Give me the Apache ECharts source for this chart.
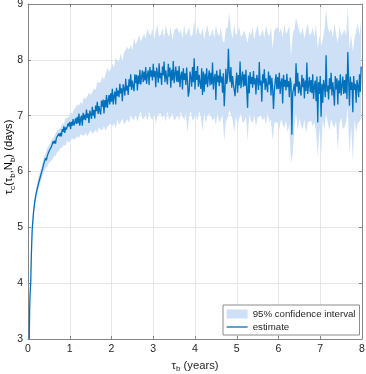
<!DOCTYPE html>
<html>
<head>
<meta charset="utf-8">
<script src="https://cdn.jsdelivr.net/npm/echarts@6/dist/echarts.min.js"></script>
<style>html,body{margin:0;padding:0;background:#fff;}#c{width:366px;height:374px;}</style>
</head>
<body>
<div id="c"></div>
<script>
// ---- data ----
const xTicks = [0, 1, 2, 3, 4, 5, 6, 7, 8];
const yTicks = [3, 4, 5, 6, 7, 8, 9];

// steep start (tau_b, years), shared by estimate and band
const tauEarly = [0.03, 0.04, 0.05, 0.065, 0.08, 0.10, 0.13, 0.16, 0.20, 0.25, 0.30, 0.35];
const estEarly = [3.00, 3.55, 3.80, 4.00, 4.50, 4.95, 5.25, 5.45, 5.62, 5.78, 5.92, 6.05];
const upEarly  = [3.02, 3.58, 3.84, 4.05, 4.56, 5.02, 5.33, 5.53, 5.71, 5.88, 6.03, 6.17];
const loEarly  = [3.00, 3.52, 3.76, 3.95, 4.44, 4.88, 5.17, 5.37, 5.53, 5.68, 5.81, 5.93];

// estimate: sampled from 0.38 years every 0.02 years
const estStart = 0.38, estStep = 0.02;
const estMain = [
  6.14,6.14,6.24,6.20,6.27,6.32,6.29,6.39,6.38,6.44,
  6.45,6.54,6.50,6.55,6.50,6.60,6.60,6.58,6.68,6.63,
  6.69,6.63,6.76,6.71,6.81,6.69,6.79,6.75,6.72,6.86,
  6.81,6.89,6.76,6.89,6.82,6.94,6.82,6.88,6.95,6.85,
  6.98,6.86,7.04,6.82,6.94,7.00,6.82,7.05,6.93,7.02,
  6.92,7.11,6.96,7.04,6.87,7.09,7.03,6.94,7.16,7.00,
  7.10,6.95,7.18,7.08,7.25,7.03,7.17,7.08,7.02,7.27,
  7.16,7.29,7.04,7.28,7.15,7.37,7.14,7.27,7.37,7.20,
  7.40,7.25,7.48,7.20,7.36,7.43,7.20,7.50,7.35,7.45,
  7.33,7.57,7.40,7.49,7.26,7.56,7.49,7.36,7.66,7.45,
  7.54,7.37,7.65,7.52,7.74,7.46,7.63,7.52,7.44,7.74,
  7.58,7.73,7.45,7.72,7.57,7.82,7.56,7.69,7.81,7.60,
  7.79,7.63,7.87,7.57,7.73,7.81,7.55,7.87,7.70,7.81,
  7.63,7.93,7.69,7.80,7.51,7.86,7.76,7.59,7.94,7.67,
  7.77,7.55,7.88,7.72,7.97,7.60,7.81,7.67,7.56,7.93,
  7.70,7.86,7.50,7.82,7.63,7.98,7.58,7.75,7.88,7.61,
  7.81,7.60,7.89,7.51,7.71,7.79,7.47,7.85,7.64,7.76,
  7.55,7.86,7.62,7.34,7.44,7.79,7.69,7.52,7.87,7.60,
  8.03,7.47,7.80,7.64,7.89,7.52,7.73,7.59,7.48,7.85,
  7.37,7.79,7.43,7.75,7.56,7.85,7.51,7.68,7.81,7.54,
  7.77,7.56,7.95,7.47,7.67,7.75,7.28,7.81,7.60,7.72,
  7.53,7.83,7.59,7.70,7.41,7.76,7.17,7.49,7.84,7.57,
  7.67,8.20,7.77,7.60,7.87,7.50,7.71,7.56,7.46,7.35,
  7.61,7.77,7.41,7.73,7.54,7.97,7.49,7.66,7.79,7.52,
  7.74,7.53,7.82,7.44,7.14,7.72,7.40,7.78,7.57,7.69,
  7.50,7.80,7.56,7.67,7.38,7.73,7.63,7.46,7.96,7.54,
  7.63,7.25,7.74,7.58,7.83,7.46,7.67,7.53,7.42,7.79,
  7.56,7.72,7.36,7.68,7.49,7.12,7.44,7.61,7.74,7.47,
  7.69,7.48,7.77,7.39,7.59,7.67,7.22,7.73,7.52,7.64,
  7.45,7.75,7.51,7.62,7.33,7.68,7.58,6.66,7.41,7.48,
  7.57,7.35,7.94,7.52,7.77,7.40,7.61,7.47,7.36,7.73,
  7.51,7.67,7.31,7.63,7.44,7.95,7.39,7.56,7.69,7.42,
  7.64,7.40,7.74,7.30,7.53,7.63,7.26,7.70,6.88,7.60,
  7.39,7.71,6.98,7.57,7.23,7.64,7.53,7.33,8.08,7.43,
  7.54,7.29,7.67,7.47,7.77,7.36,7.60,7.43,7.18,7.71,
  7.47,7.67,7.20,7.63,7.40,7.74,7.36,7.54,7.70,7.39,
  7.64,7.40,7.74,7.30,8.14,7.63,7.18,7.70,7.46,7.60,
  7.06,7.71,7.46,7.57,7.23,7.64,7.53,7.33,7.74,7.43,
  7.88
];

// 95% confidence band: sampled from 0.38 years every 0.04 years
const bandStart = 0.38, bandStep = 0.04;
const upMain = [
  6.26,6.32,6.42,6.46,6.51,6.59,6.61,6.68,6.74,6.75,
  6.79,6.86,6.86,6.96,6.96,6.98,7.07,7.03,7.11,7.15,
  7.20,7.18,7.24,7.21,7.34,7.29,7.35,7.41,7.37,7.42,
  7.48,7.46,7.60,7.59,7.60,7.71,7.64,7.76,7.86,7.79,
  7.84,7.94,7.86,8.04,7.98,7.97,8.11,7.98,8.13,8.18,
  8.23,8.18,8.27,8.17,8.40,8.27,8.35,8.45,8.33,8.39,
  8.47,8.37,8.56,8.47,8.43,8.56,8.37,8.51,8.62,8.42,
  8.45,8.56,8.39,8.62,8.48,8.42,8.59,8.35,8.53,8.56,
  8.57,8.47,8.54,8.38,8.63,8.44,8.50,8.59,8.41,8.45,
  8.70,8.41,8.60,8.50,8.44,8.57,8.36,8.51,8.63,8.42,
  8.45,8.56,8.39,8.62,8.48,8.42,8.59,8.35,8.30,8.56,
  8.57,8.85,8.54,8.38,8.63,8.44,8.50,8.59,8.41,8.45,
  8.53,8.41,8.30,8.50,8.44,8.57,8.36,8.51,8.63,8.42,
  8.45,8.56,8.39,8.62,8.48,8.42,8.59,8.20,8.53,8.56,
  8.59,8.49,8.56,8.40,8.65,8.46,8.52,8.61,8.05,8.47,
  8.55,8.75,8.62,8.52,8.46,8.59,8.38,8.53,8.65,8.44,
  8.47,8.58,8.41,8.64,8.20,8.44,8.25,8.37,8.55,8.90,
  8.59,8.49,8.56,8.40,8.65,8.46,8.30,8.61,8.43,8.47,
  8.55,8.43,8.95,8.20,8.46,8.15,8.38,8.53,8.65,8.44,8.72
];
const loMain = [
  6.00,6.06,6.08,6.16,6.18,6.21,6.27,6.28,6.34,6.37,
  6.42,6.43,6.48,6.46,6.55,6.52,6.55,6.60,6.57,6.59,
  6.63,6.60,6.67,6.65,6.64,6.69,6.63,6.69,6.74,6.68,
  6.70,6.75,6.69,6.79,6.75,6.74,6.81,6.73,6.81,6.83,
  6.86,6.81,6.86,6.78,6.93,6.84,6.88,6.94,6.85,6.88,
  6.94,6.87,7.01,6.95,6.92,7.02,6.89,7.00,7.08,6.94,
  6.95,7.03,6.90,7.08,6.97,6.92,7.05,6.86,7.01,7.03,
  7.04,6.96,7.02,6.89,7.09,6.93,6.98,7.05,6.91,6.95,
  7.01,6.91,7.07,6.98,6.93,7.04,6.70,6.99,7.09,6.92,
  6.95,7.03,6.90,7.08,6.97,6.72,7.05,6.86,7.01,7.03,
  7.00,6.91,6.97,6.83,7.05,6.88,6.93,7.01,6.55,6.89,
  6.96,7.10,7.02,6.93,6.70,7.00,6.82,6.95,7.05,6.87,
  6.89,6.99,6.55,7.04,6.92,6.87,7.01,6.80,6.96,6.99,
  7.00,6.91,6.97,6.83,7.05,6.88,6.93,6.55,6.86,6.89,
  6.87,6.75,6.94,6.84,6.78,6.91,6.70,6.85,6.15,6.30,
  6.79,7.05,6.73,6.96,6.82,6.76,6.93,6.69,6.87,6.90,
  6.91,6.81,6.88,6.72,6.25,6.78,6.30,6.93,6.75,7.05,
  6.87,6.75,6.94,6.84,6.78,6.91,6.40,6.85,6.97,6.76,
  6.79,6.90,7.15,6.30,6.82,6.20,6.93,6.69,6.87,6.90,6.95
];

const bandName = '95% confidence interval';
const lineName = 'estimate';

// ---- build ----
const tauLine = tauEarly.concat(estMain.map((_, i) => +(estStart + estStep * i).toFixed(2)));
const est = estEarly.concat(estMain);
const tauBand = tauEarly.concat(upMain.map((_, i) => +(bandStart + bandStep * i).toFixed(2)));
const upper = upEarly.concat(upMain);
const lower = loEarly.concat(loMain);

const FONT = '"Liberation Sans", Arial, Helvetica, sans-serif';
const TXT = '#262626';
const AX = '#858585';
const GRID = '#e6e6e6';
const LINE = '#0072BD';
const BAND = '#cde0f6';

const nameRich = {
  t: { fontSize: 11.25, fontFamily: FONT, color: TXT, lineHeight: 15 },
  s: { fontSize: 8, fontFamily: FONT, color: TXT, lineHeight: 8, verticalAlign: 'bottom' }
};

const chart = echarts.init(document.getElementById('c'), null, { renderer: 'canvas' });
const axisCommon = {
  axisLine: { show: true, onZero: false, lineStyle: { color: AX, width: 1 } },
  axisTick: { show: true, inside: true, length: 3, lineStyle: { color: AX } },
};
chart.setOption({
  animation: false,
  backgroundColor: '#fff',
  grid: { left: 28, right: 4, top: 4, bottom: 35, containLabel: false, outerBoundsMode: 'none' },
  graphic: [{
    type: 'text', x: 9, y: 157, rotation: Math.PI / 2, silent: true,
    style: {
      text: '{t|τ}{s|c}{t|(τ}{s|b}{t|,N}{s|b}{t|) (days)}',
      rich: nameRich, align: 'center', verticalAlign: 'middle'
    }
  }],
  xAxis: [
    Object.assign({
      type: 'value', min: xTicks[0], max: xTicks[xTicks.length - 1], interval: 1, position: 'bottom',
      axisLabel: { fontSize: 10.5, fontFamily: FONT, color: TXT, margin: 5 },
      splitLine: { show: true, lineStyle: { color: GRID, width: 1 } },
      name: '{t|τ}{s|b}{t| (years)}', nameLocation: 'middle', nameGap: 18,
      nameTextStyle: { rich: nameRich }
    }, axisCommon),
    Object.assign({
      type: 'value', min: xTicks[0], max: xTicks[xTicks.length - 1], interval: 1, position: 'top',
      axisLabel: { show: false }, splitLine: { show: false }
    }, axisCommon)
  ],
  yAxis: [
    Object.assign({
      type: 'value', min: yTicks[0], max: yTicks[yTicks.length - 1], interval: 1, position: 'left',
      axisLabel: { fontSize: 10.5, fontFamily: FONT, color: TXT, margin: 5 },
      splitLine: { show: true, lineStyle: { color: GRID, width: 1 } }
    }, axisCommon),
    Object.assign({
      type: 'value', min: yTicks[0], max: yTicks[yTicks.length - 1], interval: 1, position: 'right',
      axisLabel: { show: false }, splitLine: { show: false }
    }, axisCommon)
  ],
  legend: {
    orient: 'vertical', left: 223, top: 305,
    padding: [4, 4, 3, 3], itemGap: 3, itemWidth: 21, itemHeight: 9,
    backgroundColor: '#fff', borderColor: '#8c8c8c', borderWidth: 1, borderRadius: 0,
    textStyle: { fontSize: 9.7, fontFamily: FONT, color: TXT },
    data: [
      { name: bandName, icon: 'rect' },
      { name: lineName, itemStyle: { opacity: 0 }, lineStyle: { color: LINE, width: 1.3, opacity: 1 } }
    ],
    selectedMode: false
  },
  series: [
    {
      name: bandName, type: 'custom', xAxisIndex: 0, yAxisIndex: 0,
      itemStyle: { color: BAND },
      data: [[tauBand[0], upper[0]]],
      silent: true, z: 1,
      renderItem: function (params, api) {
        const pts = [];
        for (let i = 0; i < tauBand.length; i++) pts.push(api.coord([tauBand[i], upper[i]]));
        for (let i = tauBand.length - 1; i >= 0; i--) pts.push(api.coord([tauBand[i], lower[i]]));
        return { type: 'polygon', shape: { points: pts }, style: { fill: BAND, stroke: null } };
      }
    },
    {
      name: lineName, type: 'line', xAxisIndex: 0, yAxisIndex: 0,
      data: tauLine.map((t, i) => [t, est[i]]),
      symbol: 'none', showSymbol: false, z: 3,
      lineStyle: { color: LINE, width: 1.3 }, itemStyle: { color: LINE },
      emphasis: { disabled: true }, silent: true
    }
  ]
});
</script>
</body>
</html>
